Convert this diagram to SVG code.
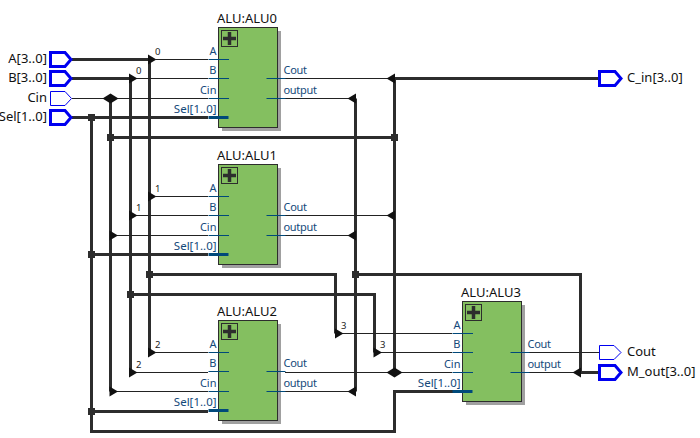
<svg xmlns="http://www.w3.org/2000/svg" width="700" height="438" viewBox="0 0 700 438">
<style>
text{font-family:"Noto Sans","Open Sans",sans-serif;font-size:13px;fill:#111}
.port{fill:#14497a;font-size:11.500px}
.out{font-size:11px;letter-spacing:-.3px}
.small{font-size:11px}
.bit{font-size:9.500px;fill:#222}
.end{text-anchor:end}
.bus{fill:none;stroke:#2d2d2d;stroke-width:3}
.thin{fill:none;stroke:#222;stroke-width:1}
.stub{fill:none;stroke:#00497a;stroke-width:1}
.stubbus{fill:none;stroke:#00497a;stroke-width:3}
.body{fill:#84bf60;stroke:#2d2d2d;stroke-width:1}
.shadow{fill:#a0a0a0}
.icon{fill:none;stroke:#2d2d2d;stroke-width:1}
.pbus{fill:#fff;stroke:#0000f0;stroke-width:3}
.pwire{fill:#fff;stroke:#0000f0;stroke-width:1}
</style>
<defs>
<path id="ar" d="M0,-5L8.500,0L0,5Z" fill="#111"/>
<path id="al" d="M0,-5L-8.500,0L0,5Z" fill="#111"/>
<path id="dia" d="M-8,0L0,-5L8,0L0,5Z" fill="#111"/>
<rect id="j" x="-3.500" y="-3.500" width="7" height="7" fill="#2d2d2d"/>
<g id="alu">
<rect class="shadow" x="3.500" y="3.500" width="59" height="100"/>
<rect class="body" x="0" y="0" width="59" height="100"/>
<rect class="icon" x="3" y="3" width="16" height="16"/>
<path d="M11,4.500V17.500M4.500,11H17.500" fill="none" stroke="#2d2d2d" stroke-width="3.500"/>
<path class="stub" d="M-10,32H10.500M-10,51H10.500M-10,71H10.500M48,51H67M48,71H67"/>
<path class="stubbus" d="M-10,90H10"/>
<text class="port end small" x="-2" y="27">A</text>
<text class="port end small" x="-2" y="46">B</text>
<text class="port end small" x="-2" y="66">Cin</text>
<text class="port end" x="-2" y="85.500">Sel[1..0]</text>
<text class="port out" x="65" y="46">Cout</text>
<text class="port out" x="65" y="66">output</text>
</g>
</defs>
<g id="connectors">
<path class="bus" d="M72,59.500H150M149.500,59.500V352.500"/>
<path class="bus" d="M72,78.500H131M130.500,78.500V372.500"/>
<path class="bus" d="M110.500,98.500V391.500"/>
<path class="bus" d="M72,117.500H208M91.500,117.500V431.500H394.500V391.500H454M91.500,254.500H208M91.500,411.500H208"/>
<path class="bus" d="M110.500,137.500H394.500M394.500,78.500V372.500"/>
<path class="bus" d="M149.500,274.500H335.500V333.500"/>
<path class="bus" d="M130.500,294.500H374.500V352.500"/>
<path class="bus" d="M355.500,98.500V391.500M355.500,274.500H580.500V372.500M580.500,372.500H600M394.500,78.500H599"/>
<path class="thin" d="M156,59.500H208M136,78.500H208M72,98.500H208M285,78.500H388M285,98.500H349"/>
<path class="thin" d="M156,196.500H208M136,215.500H208M116,235.500H208M285,215.500H388M285,235.500H349"/>
<path class="thin" d="M156,352.500H208M136,372.500H208M116,391.500H208M285,372.500H452M285,391.500H349"/>
<path class="thin" d="M342,333.500H452M381,352.500H452M529,352.500H600M529,372.500H574"/>
<use href="#ar" x="148" y="59.500"/><use href="#ar" x="129" y="78.500"/><use href="#dia" x="110.500" y="98.500"/>
<use href="#ar" x="148" y="196.500"/><use href="#ar" x="129" y="215.500"/><use href="#ar" x="109.500" y="235.500"/>
<use href="#ar" x="148" y="352.500"/><use href="#ar" x="129" y="372.500"/><use href="#ar" x="109.500" y="391.500"/>
<use href="#ar" x="335" y="333.500"/><use href="#ar" x="373.500" y="352.500"/>
<use href="#al" x="395" y="78.500"/><use href="#al" x="395" y="215.500"/><use href="#dia" x="394.500" y="372.500"/>
<use href="#al" x="356" y="98.500"/><use href="#al" x="356" y="235.500"/><use href="#al" x="356" y="391.500"/>
<use href="#al" x="581" y="372.500"/>
<use href="#j" x="91.500" y="117.500"/><use href="#j" x="110.500" y="137.500"/><use href="#j" x="394.500" y="137.500"/>
<use href="#j" x="91.500" y="254.500"/><use href="#j" x="149.500" y="274.500"/><use href="#j" x="355.500" y="274.500"/>
<use href="#j" x="130.500" y="294.500"/><use href="#j" x="91.500" y="411.500"/>
<text class="bit" x="155" y="55">0</text><text class="bit" x="136" y="74">0</text>
<text class="bit" x="155" y="192">1</text><text class="bit" x="136" y="211">1</text>
<text class="bit" x="155" y="348">2</text><text class="bit" x="136" y="368">2</text>
<text class="bit" x="341" y="329">3</text><text class="bit" x="380" y="348">3</text>
</g>
<g id="ALU0"><use href="#alu" x="218.500" y="27.500"/><text x="217" y="23">ALU:ALU0</text></g>
<g id="ALU1"><use href="#alu" x="218.500" y="164.500"/><text x="217" y="160">ALU:ALU1</text></g>
<g id="ALU2"><use href="#alu" x="218.500" y="320.500"/><text x="217" y="316">ALU:ALU2</text></g>
<g id="ALU3"><use href="#alu" x="462.500" y="301.500"/><text x="461" y="297">ALU:ALU3</text></g>
<g id="port-A"><path class="pbus" d="M50.500,52.500H65L71,59.500L65,66.500H50.500Z"/><text class="end" x="47" y="63">A[3..0]</text></g>
<g id="port-B"><path class="pbus" d="M50.500,71.500H65L71,78.500L65,85.500H50.500Z"/><text class="end" x="47" y="82">B[3..0]</text></g>
<g id="port-Cin"><path class="pwire" d="M50.500,91.500H65L71.500,98.500L65,105.500H50.500Z"/><text class="end" x="47" y="102">Cin</text></g>
<g id="port-Sel"><path class="pbus" d="M50.500,110.500H65L71,117.500L65,124.500H50.500Z"/><text class="end" x="47" y="121">Sel[1..0]</text></g>
<g id="port-C_in"><path class="pbus" d="M599.500,71.500H615L621,78.500L615,85.500H599.500Z"/><text x="627" y="82">C_in[3..0]</text></g>
<g id="port-Cout"><path class="pwire" d="M599.500,345.500H614L621,352.500L614,359.500H599.500Z"/><text x="627" y="356">Cout</text></g>
<g id="port-M_out"><path class="pbus" d="M599.500,365.500H615L621,372.500L615,379.500H599.500Z"/><text x="627" y="376">M_out[3..0]</text></g>
</svg>
